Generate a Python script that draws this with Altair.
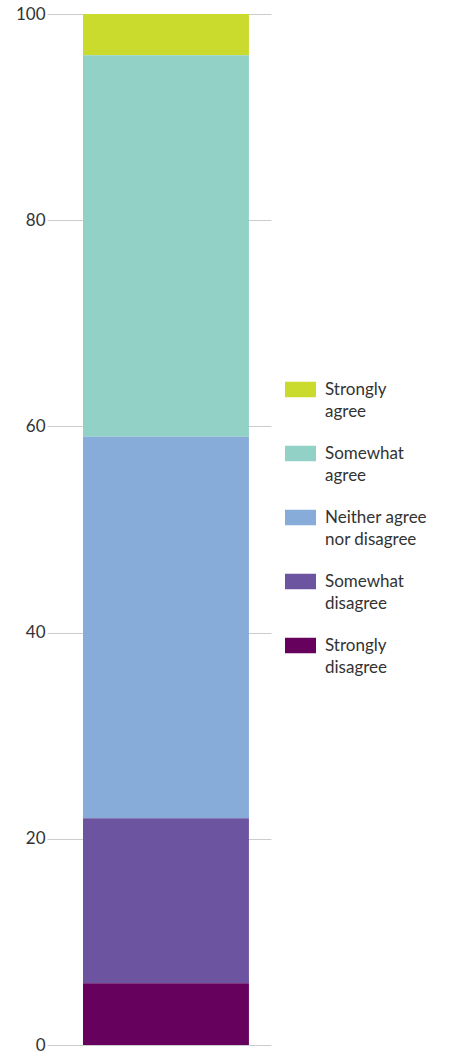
import altair as alt
import pandas as pd

categories = ["Strongly agree", "Somewhat agree", "Neither agree nor disagree", "Somewhat disagree", "Strongly disagree"]
label_lines = ["Strongly|agree", "Somewhat|agree", "Neither agree|nor disagree", "Somewhat|disagree", "Strongly|disagree"]
values = [4, 37, 37, 16, 6]
stack_rank = [5, 4, 3, 2, 1]
colors = ["#CBDB2E", "#92D1C5", "#87ACD9", "#6C54A1", "#66025E"]
y_ticks = [0, 20, 40, 60, 80, 100]

df = pd.DataFrame({
    "group": ["All"] * len(categories),
    "response": categories,
    "value": values,
    "rank": stack_rank,
})

label_map = "{" + ",".join(f"'{c}':'{l}'" for c, l in zip(categories, label_lines)) + "}"

chart = alt.Chart(df).mark_bar().encode(
    x=alt.X("group:N", axis=None,
            scale=alt.Scale(paddingInner=0, paddingOuter=0.175, align=0.62)),
    y=alt.Y("value:Q", stack="zero",
            scale=alt.Scale(domain=[0, 100], nice=False),
            axis=alt.Axis(values=y_ticks, title=None, domain=False, ticks=False,
                          grid=True, gridColor="#cccccc", gridWidth=1,
                          labelFont="Lato", labelFontSize=17, labelColor="#333333",
                          labelPadding=2)),
    color=alt.Color("response:N",
                    scale=alt.Scale(domain=categories, range=colors),
                    legend=alt.Legend(title=None, orient="none", legendX=238, legendY=360,
                                      symbolType="M-1,-0.5L1,-0.5L1,0.5L-1,0.5Z",
                                      symbolSize=961, symbolStrokeWidth=0,
                                      labelFont="Lato", labelFontSize=17, labelColor="#333333",
                                      labelOffset=9, labelLimit=200, rowPadding=18,
                                      labelExpr=f"split({label_map}[datum.label], '|')")),
    order=alt.Order("rank:Q", sort="ascending"),
).properties(
    width=224, height=1031,
    autosize=alt.AutoSizeParams(type="none"),
    padding={"left": 47, "top": 14, "right": 181, "bottom": 9},
).configure(
    style={"guide-label": {"lineHeight": 22}}
).configure_view(stroke=None)

chart.save("out.html", embed_options={"renderer": "svg", "actions": False})
